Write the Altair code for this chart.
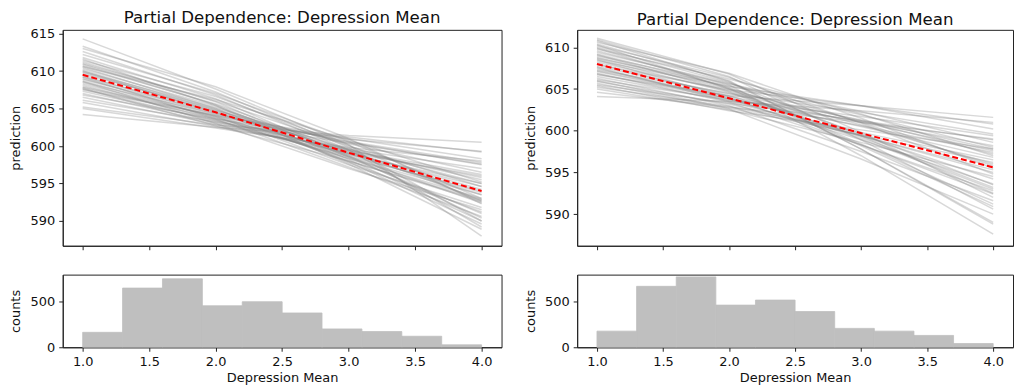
import altair as alt
import pandas as pd

# ---------------- data ----------------
GRID_X = [1.0, 2.0, 3.0, 4.0]
X_TICKS = [1.0, 1.5, 2.0, 2.5, 3.0, 3.5, 4.0]

LEFT_ICE = [
    [614.3, 607.6, 600.2, 588.0],
    [613.3, 607.2, 599.8, 590.0],
    [613.0, 607.9, 601.0, 592.3],
    [612.6, 606.8, 599.5, 589.2],
    [612.2, 607.0, 600.6, 593.0],
    [611.8, 606.3, 598.7, 590.4],
    [611.4, 606.6, 600.1, 592.6],
    [611.2, 605.9, 598.5, 591.0],
    [611.0, 606.0, 600.0, 594.6],
    [610.9, 605.5, 598.2, 590.0],
    [610.7, 605.6, 599.4, 592.8],
    [610.5, 605.0, 597.9, 589.6],
    [610.3, 605.3, 599.0, 593.5],
    [610.1, 604.8, 598.6, 592.4],
    [609.9, 605.1, 599.6, 595.0],
    [609.8, 604.6, 597.8, 591.2],
    [609.6, 604.9, 599.2, 594.2],
    [609.4, 604.2, 598.0, 592.6],
    [609.2, 604.7, 600.3, 596.5],
    [609.0, 604.0, 597.5, 591.8],
    [608.9, 604.5, 599.5, 595.5],
    [608.7, 603.8, 598.3, 593.0],
    [608.5, 604.3, 600.5, 597.5],
    [608.3, 603.9, 599.0, 594.6],
    [608.1, 603.5, 598.4, 593.5],
    [607.9, 604.0, 600.6, 597.8],
    [607.8, 603.7, 599.3, 595.8],
    [607.6, 603.3, 598.6, 594.0],
    [607.5, 604.1, 601.0, 598.3],
    [607.3, 603.4, 599.4, 596.2],
    [607.0, 603.1, 598.9, 595.0],
    [606.8, 603.6, 600.9, 599.3],
    [606.5, 602.9, 599.1, 596.0],
    [606.1, 603.2, 600.4, 597.6],
    [605.8, 602.6, 599.6, 597.0],
    [605.2, 602.8, 601.4, 600.5],
    [605.0, 602.4, 599.8, 598.0],
    [604.2, 602.5, 601.2, 599.2],
    [610.6, 606.2, 600.8, 595.2],
    [611.6, 605.4, 597.6, 588.9],
    [609.2, 603.6, 597.2, 590.6],
    [608.6, 603.0, 597.0, 591.5],
    [610.0, 604.4, 598.8, 593.8],
    [607.7, 602.7, 598.0, 592.8],
]
LEFT_PD = [609.5, 604.5, 599.1, 594.0]

RIGHT_ICE = [
    [611.1, 606.8, 599.8, 592.0],
    [610.9, 606.5, 598.9, 590.6],
    [610.6, 606.9, 601.5, 595.5],
    [610.4, 606.0, 597.8, 589.0],
    [610.2, 606.4, 600.9, 594.8],
    [610.0, 605.8, 599.4, 592.5],
    [609.8, 606.2, 602.0, 597.0],
    [609.6, 605.5, 597.0, 587.6],
    [609.4, 605.7, 601.0, 595.8],
    [609.2, 605.2, 599.6, 593.5],
    [609.0, 605.6, 602.3, 598.6],
    [608.8, 605.0, 600.7, 596.0],
    [608.6, 604.6, 599.0, 593.0],
    [608.4, 605.3, 603.0, 600.2],
    [608.2, 604.8, 601.2, 597.2],
    [608.0, 604.2, 599.4, 594.2],
    [607.9, 604.9, 603.0, 600.8],
    [607.7, 604.4, 601.3, 597.8],
    [607.5, 603.8, 598.9, 593.6],
    [607.3, 604.5, 602.2, 599.6],
    [607.1, 603.9, 600.5, 596.8],
    [606.9, 603.4, 598.3, 592.8],
    [606.7, 604.2, 603.0, 601.6],
    [606.5, 603.6, 600.6, 597.4],
    [606.3, 603.0, 597.5, 591.6],
    [606.1, 603.7, 601.7, 599.4],
    [605.9, 603.2, 599.4, 595.3],
    [605.7, 602.6, 596.6, 590.0],
    [605.5, 603.3, 601.2, 598.9],
    [605.2, 602.9, 599.8, 596.5],
    [605.0, 602.5, 598.6, 594.5],
    [604.6, 602.8, 601.0, 599.0],
    [604.1, 603.5, 602.4, 601.0],
    [610.8, 605.9, 597.8, 588.8],
    [609.9, 605.1, 598.4, 591.2],
    [608.5, 604.0, 598.3, 592.4],
    [607.6, 603.5, 599.4, 595.0],
    [606.8, 603.8, 601.1, 598.2],
    [609.1, 604.7, 599.2, 593.2],
    [607.2, 604.1, 601.0, 597.6],
    [608.7, 605.4, 601.9, 598.0],
    [606.0, 602.7, 599.5, 596.2],
    [610.3, 605.0, 598.2, 590.9],
    [605.4, 602.4, 600.1, 597.8],
]
RIGHT_PD = [608.0, 603.9, 599.7, 595.6]

BIN_EDGES = [1.0, 1.3, 1.6, 1.9, 2.2, 2.5, 2.8, 3.1, 3.4, 3.7, 4.0]
LEFT_COUNTS = [163, 646, 747, 453, 497, 374, 200, 171, 120, 26]
RIGHT_COUNTS = [176, 665, 768, 460, 515, 390, 206, 176, 129, 40]

LEFT_Y_TICKS = [590, 595, 600, 605, 610, 615]
RIGHT_Y_TICKS = [590, 595, 600, 605, 610]
COUNT_TICKS = [0, 500]

TITLE = "Partial Dependence: Depression Mean"
FONT = "DejaVu Sans"
X_DOMAIN = [0.85, 4.15]
BAR_GREY = "#bfbfbf"


def top_panel(ice, pd_vals, ydom, yticks, width):
    rows = [
        {"id": i, "x": GRID_X[j], "y": v}
        for i, line in enumerate(ice)
        for j, v in enumerate(line)
    ]
    df = pd.DataFrame(rows)
    pdf = pd.DataFrame({"x": GRID_X, "y": pd_vals})
    xenc = alt.X(
        "x:Q",
        scale=alt.Scale(domain=X_DOMAIN, nice=False, zero=False),
        axis=alt.Axis(values=X_TICKS, labels=False, title=None),
    )
    yenc = alt.Y(
        "y:Q",
        scale=alt.Scale(domain=ydom, nice=False, zero=False),
        axis=alt.Axis(values=yticks, title="prediction", format="d"),
    )
    ice_lines = alt.Chart(df).mark_line(
        color="#7f7f7f", opacity=0.3, strokeWidth=1.5, clip=True
    ).encode(x=xenc, y=yenc, detail="id:N")
    pd_line = alt.Chart(pdf).mark_line(
        color="#ff0000", strokeDash=[6, 3], strokeWidth=2, clip=True
    ).encode(x=xenc, y=yenc)
    return alt.layer(ice_lines, pd_line).properties(
        width=width,
        height=217,
        title=alt.TitleParams(TITLE, fontSize=16.7, font=FONT, fontWeight="normal",
                              color="#111", offset=1),
    )


def hist_panel(counts, width):
    df = pd.DataFrame({
        "lo": BIN_EDGES[:-1],
        "hi": BIN_EDGES[1:],
        "count": counts,
    })
    return alt.Chart(df).mark_rect(
        color=BAR_GREY, stroke=BAR_GREY, strokeWidth=0.8
    ).encode(
        x=alt.X(
            "lo:Q",
            scale=alt.Scale(domain=X_DOMAIN, nice=False, zero=False),
            axis=alt.Axis(values=X_TICKS, format=".1f", title="Depression Mean"),
        ),
        x2="hi:Q",
        y=alt.Y(
            "count:Q",
            scale=alt.Scale(domain=[0, 793], nice=False),
            axis=alt.Axis(values=COUNT_TICKS, title="counts"),
        ),
        y2=alt.datum(0),
    ).properties(width=width, height=73)


left = alt.vconcat(
    top_panel(LEFT_ICE, LEFT_PD, [586.7, 615.5], LEFT_Y_TICKS, 441),
    hist_panel(LEFT_COUNTS, 441),
    spacing=23,
).resolve_scale(x="independent", y="independent")

right = alt.vconcat(
    top_panel(RIGHT_ICE, RIGHT_PD, [586.2, 612.1], RIGHT_Y_TICKS, 438),
    hist_panel(RIGHT_COUNTS, 438),
    spacing=23,
).resolve_scale(x="independent", y="independent")

chart = alt.hconcat(left, right, spacing=21).resolve_scale(
    x="independent", y="independent"
).properties(
    padding={"left": 1, "top": 0, "right": 0, "bottom": 0}
).configure_view(
    stroke="#222", strokeWidth=1
).configure_axis(
    grid=False,
    labelFont=FONT,
    titleFont=FONT,
    labelFontSize=13,
    titleFontSize=13,
    titleFontWeight="normal",
    labelColor="#111",
    titleColor="#111",
    tickColor="#222",
    domainColor="#222",
    tickSize=4,
    labelPadding=4,
).configure_axisY(
    minExtent=36,
    maxExtent=36,
    titlePadding=4,
).configure_axisX(
    titlePadding=3,
)

chart.save("out.html", embed_options={"renderer": "svg", "actions": False})
